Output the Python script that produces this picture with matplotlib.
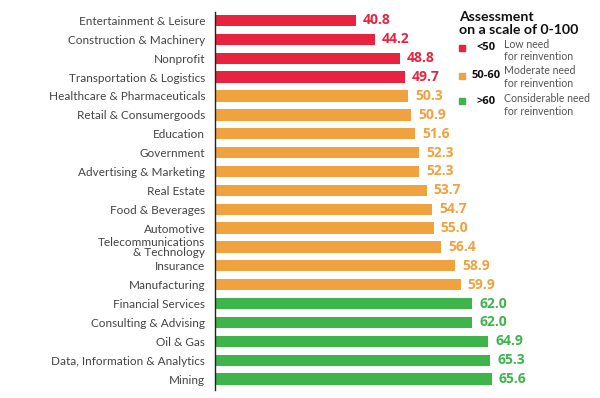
import matplotlib
matplotlib.use("Agg")
import matplotlib.pyplot as plt
from matplotlib.patches import Rectangle

categories = [
    "Entertainment & Leisure", "Construction & Machinery", "Nonprofit",
    "Transportation & Logistics", "Healthcare & Pharmaceuticals",
    "Retail & Consumergoods", "Education", "Government",
    "Advertising & Marketing", "Real Estate", "Food & Beverages",
    "Automotive", "Telecommunications\n& Technology", "Insurance",
    "Manufacturing", "Financial Services", "Consulting & Advising",
    "Oil & Gas", "Data, Information & Analytics", "Mining",
]
values = [40.8, 44.2, 48.8, 49.7, 50.3, 50.9, 51.6, 52.3, 52.3, 53.7,
          54.7, 55.0, 56.4, 58.9, 59.9, 62.0, 62.0, 64.9, 65.3, 65.6]
value_labels = ["40.8", "44.2", "48.8", "49.7", "50.3", "50.9", "51.6", "52.3",
                "52.3", "53.7", "54.7", "55.0", "56.4", "58.9", "59.9", "62.0",
                "62.0", "64.9", "65.3", "65.6"]

legend_title = ["Assessment", "on a scale of 0-100"]
legend_ranges = ["<50", "50-60", ">60"]
legend_texts = ["Low need\nfor reinvention", "Moderate need\nfor reinvention",
                "Considerable need\nfor reinvention"]

RED, ORANGE, GREEN = "#E8233F", "#F0A23E", "#3DB54A"
legend_colors = [RED, ORANGE, GREEN]

def color_for(v):
    if v < 50:
        return RED
    if v < 60:
        return ORANGE
    return GREEN

W, H = 600, 398
fig = plt.figure(figsize=(6, 3.98), dpi=100)
ax = fig.add_axes([215 / W, 1 - 390 / H, 1 - 215 / W, (390 - 12) / H])

ys = list(range(len(categories)))
cols = [color_for(v) for v in values]
ax.barh(ys, values, height=0.6, color=cols, left=0)
ax.set_xlim(15, 85.4)
ax.set_ylim(19.58, -0.45)

for y, v, lab, c in zip(ys, values, value_labels, cols):
    ax.text(v + 1.3, y, lab, color=c, fontsize=10, fontweight="bold",
            family="Open Sans", va="center", ha="left")

ax.set_yticks(ys)
ax.set_yticklabels(categories, fontsize=8.5, family="Lato", color="#444444",
                   linespacing=0.85)
ax.tick_params(axis="y", length=0, pad=7)
ax.set_xticks([])
for s in ["top", "right", "bottom"]:
    ax.spines[s].set_visible(False)
ax.spines["left"].set_color("#222222")
ax.spines["left"].set_linewidth(1.0)

def fx(px):
    return px / W

def fy(py):
    return 1 - py / H

for t, b in zip(legend_title, [21, 34]):
    fig.text(fx(459), fy(b), t, fontsize=10.2, fontweight="bold",
             family="Lato", color="#111111", va="baseline")

square_centers = [48, 76, 101]
text_centers = [50.5, 77, 105]
for c, tc, rng, txt, col in zip(square_centers, text_centers, legend_ranges,
                                legend_texts, legend_colors):
    fig.patches.append(Rectangle((fx(459), fy(c + 3)), 6 / W, 6 / H,
                                 transform=fig.transFigure, color=col))
    fig.text(fx(486), fy(c), rng, fontsize=8, fontweight="bold",
             family="Open Sans", color="#111111", va="center", ha="center")
    fig.text(fx(504), fy(tc), txt, fontsize=7.6, family="Lato",
             color="#555555", va="center", ha="left", linespacing=1.15)

fig.savefig("out.png", dpi=100)
